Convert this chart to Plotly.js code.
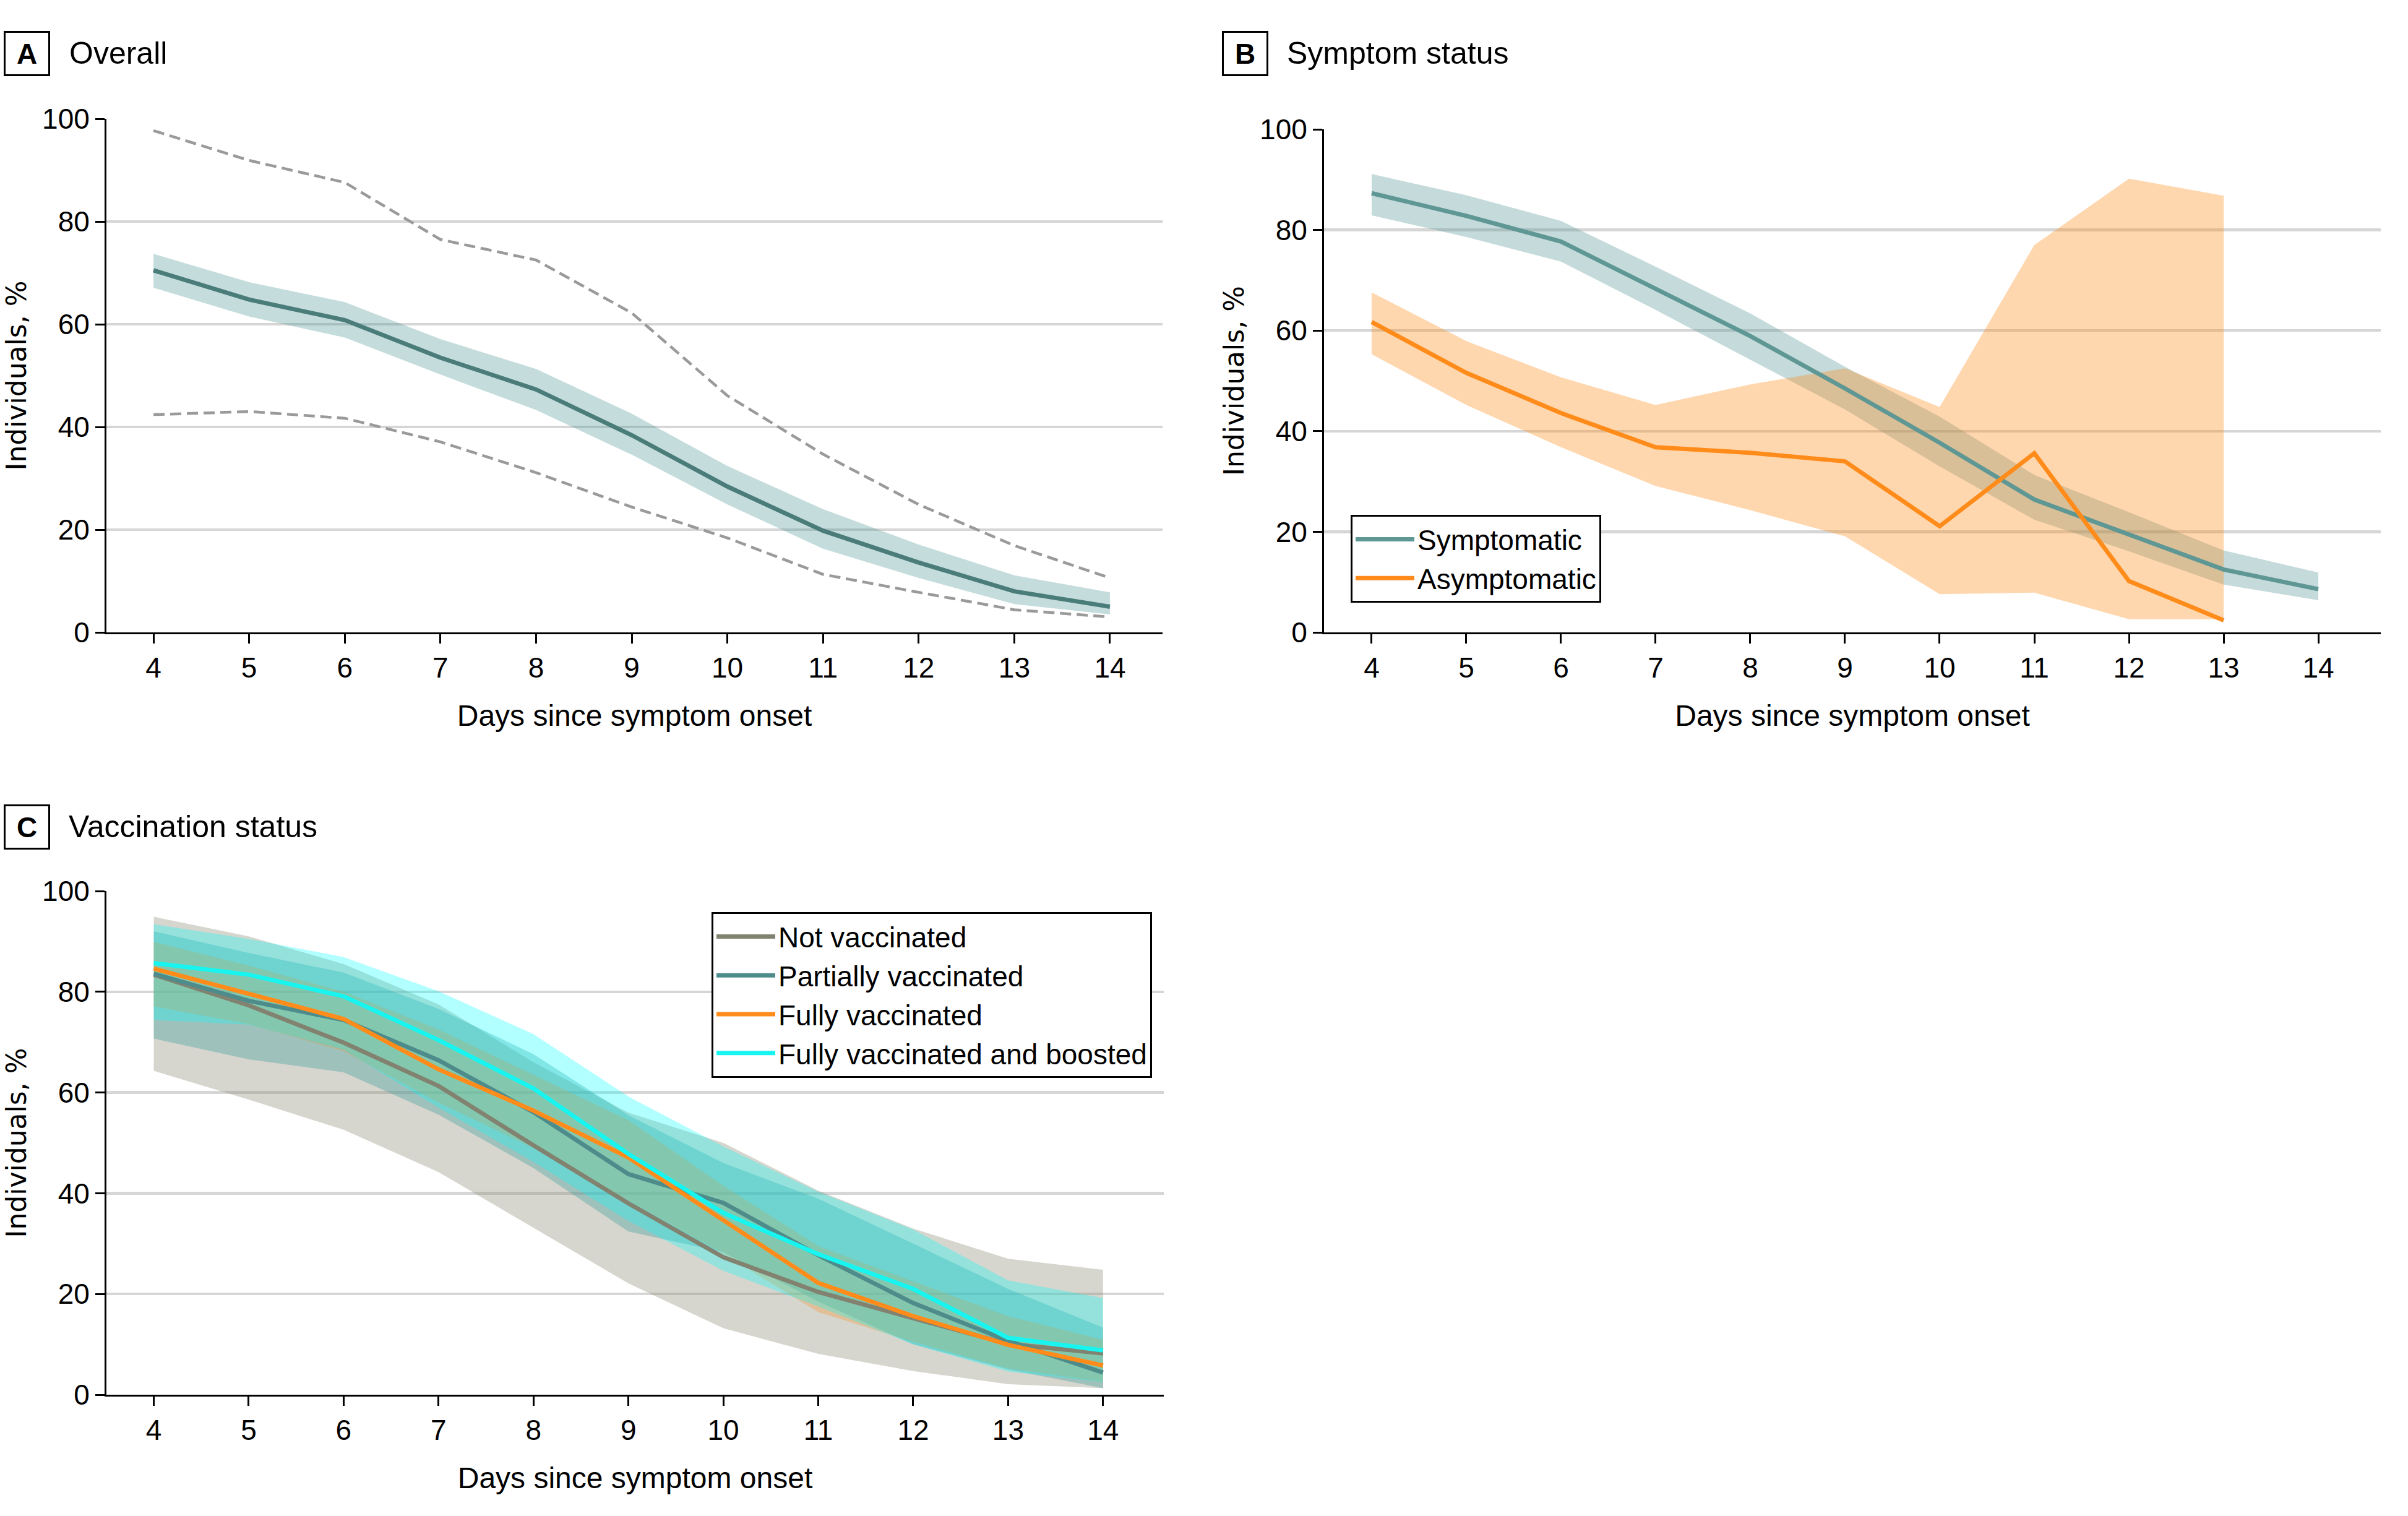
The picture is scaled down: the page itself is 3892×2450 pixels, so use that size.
<!DOCTYPE html>
<html>
<head>
<meta charset="utf-8">
<script src="https://cdn.plot.ly/plotly-3.0.1.min.js"></script>
<style>html,body{margin:0;padding:0;background:#fff;}#chart{width:3892px;height:2450px;}</style>
</head>
<body>
<div id="chart"></div>
<script>
// ---------- DATA ----------
const days = [4, 5, 6, 7, 8, 9, 10, 11, 12, 13, 14];
const dayTicks = ['4','5','6','7','8','9','10','11','12','13','14'];

// Panel A: Overall
const overallMid = [70.5, 64.8, 60.8, 53.5, 47.3, 38.4, 28.4, 19.8, 13.6, 8.0, 5.0];
const overallLo  = [67.1, 61.5, 57.4, 50.2, 43.3, 34.6, 24.9, 16.3, 10.6, 5.5, 3.5];
const overallHi  = [73.7, 68.2, 64.3, 57.1, 51.3, 42.6, 32.4, 24.0, 17.1, 11.1, 7.8];
const overallRangeHi = [97.7, 91.9, 87.6, 76.5, 72.5, 62.2, 46.1, 34.7, 24.9, 16.9, 10.6];
const overallRangeLo = [42.4, 43.0, 41.7, 37.1, 31.1, 24.4, 18.4, 11.3, 7.8, 4.4, 3.0];

// Panel B: Symptom status
const sympName = 'Symptomatic';
const sympMid = [87.3, 82.8, 77.7, 68.3, 58.9, 48.5, 37.7, 26.4, 19.4, 12.5, 8.6];
const sympLo  = [82.9, 78.6, 73.7, 64.1, 54.2, 44.3, 33.0, 22.4, 16.1, 9.5, 6.4];
const sympHi  = [91.1, 86.9, 81.8, 72.7, 63.4, 52.8, 42.9, 31.3, 23.9, 16.3, 11.9];
const asymName = 'Asymptomatic';
const asymDays = [4, 5, 6, 7, 8, 9, 10, 11, 12, 13];
const asymMid = [61.7, 51.6, 43.6, 36.8, 35.7, 34.0, 21.1, 35.6, 10.2, 2.4];
const asymLo  = [55.3, 45.2, 36.8, 29.1, 24.3, 19.1, 7.6, 7.9, 2.6, 2.6];
const asymHi  = [67.6, 57.9, 50.7, 45.2, 49.3, 52.5, 44.8, 77.0, 90.2, 86.8];

// Panel C: Vaccination status
const vacNames = ['Not vaccinated', 'Partially vaccinated', 'Fully vaccinated', 'Fully vaccinated and boosted'];
const notVacMid = [83.4, 77.3, 69.9, 61.3, 49.5, 38.0, 27.3, 20.4, 15.2, 10.1, 8.2];
const notVacLo  = [64.3, 58.6, 52.6, 44.2, 33.1, 22.1, 13.2, 8.1, 4.7, 2.1, 1.3];
const notVacHi  = [94.9, 91.0, 85.5, 77.5, 66.0, 56.0, 50.0, 40.5, 33.0, 27.0, 24.8];
const partMid = [83.6, 78.2, 74.4, 66.4, 56.1, 43.8, 38.1, 27.7, 18.2, 10.7, 4.4];
const partLo  = [70.7, 66.6, 64.0, 55.6, 45.0, 32.4, 28.3, 18.5, 10.0, 5.0, 1.3];
const partHi  = [92.0, 87.7, 83.8, 76.6, 67.6, 55.5, 46.0, 38.9, 30.0, 21.0, 13.3];
const fullMid = [84.6, 79.6, 74.6, 64.6, 56.4, 47.1, 34.7, 22.2, 15.6, 9.9, 5.8];
const fullLo  = [77.1, 73.6, 68.2, 58.0, 49.0, 38.5, 28.0, 16.4, 10.5, 5.2, 2.6];
const fullHi  = [89.9, 85.2, 80.0, 72.5, 63.5, 54.5, 41.5, 29.5, 22.5, 15.6, 10.9];
const boostMid = [85.7, 83.4, 79.1, 70.4, 60.8, 47.8, 36.1, 27.9, 21.0, 11.3, 8.8];
const boostLo  = [74.4, 73.5, 68.5, 57.0, 46.2, 34.5, 24.6, 17.5, 10.0, 4.6, 2.5];
const boostHi  = [93.4, 90.5, 86.9, 80.1, 71.6, 59.2, 49.3, 40.3, 32.8, 22.7, 19.2];

// ---------- HELPERS ----------
function band(x, lo, hi, fill, xa, ya) {
  return {
    type: 'scatter', mode: 'lines',
    x: x.concat(x.slice().reverse()),
    y: hi.concat(lo.slice().reverse()),
    fill: 'toself', fillcolor: fill,
    line: {width: 0, color: 'rgba(0,0,0,0)'},
    showlegend: false, hoverinfo: 'skip',
    xaxis: xa, yaxis: ya
  };
}
function line(x, y, color, width, xa, ya, extra) {
  return Object.assign({
    type: 'scatter', mode: 'lines', x: x, y: y,
    line: {color: color, width: width},
    showlegend: false, hoverinfo: 'skip',
    xaxis: xa, yaxis: ya
  }, extra || {});
}

const TICKFONT = 'Liberation Sans, Arial, sans-serif';
const YTITLEFONT = 'DejaVu Sans, Verdana, sans-serif';

// ---------- TRACES ----------
const traces = [];
// A
traces.push(band(days, overallLo, overallHi, 'rgba(80,150,148,0.33)', 'x', 'y'));
traces.push(line(days, overallRangeHi, '#9a9a9a', 4, 'x', 'y', {line: {color: '#9a9a9a', width: 4.5, dash: '18px,9px'}}));
traces.push(line(days, overallRangeLo, '#9a9a9a', 4, 'x', 'y', {line: {color: '#9a9a9a', width: 4.5, dash: '18px,9px'}}));
traces.push(line(days, overallMid, '#4a7c7a', 7, 'x', 'y'));

// B
traces.push(band(days, sympLo, sympHi, 'rgba(90,150,148,0.35)', 'x2', 'y2'));
traces.push(band(asymDays, asymLo, asymHi, 'rgba(255,140,26,0.35)', 'x2', 'y2'));
traces.push(line(days, sympMid, '#5e9794', 7, 'x2', 'y2', {name: sympName, showlegend: true, legend: 'legend'}));
traces.push(line(asymDays, asymMid, '#ff8c1a', 7, 'x2', 'y2', {name: asymName, showlegend: true, legend: 'legend'}));

// C
const vacColors = ['#828270', '#4e8c8c', '#ff8c1a', '#18f5f0'];
const vacFills = ['rgba(140,140,118,0.36)', 'rgba(70,160,160,0.38)', 'rgba(255,140,26,0.30)', 'rgba(0,255,255,0.30)'];
const vacMid = [notVacMid, partMid, fullMid, boostMid];
const vacLo = [notVacLo, partLo, fullLo, boostLo];
const vacHi = [notVacHi, partHi, fullHi, boostHi];
for (let i = 0; i < 4; i++) traces.push(band(days, vacLo[i], vacHi[i], vacFills[i], 'x3', 'y3'));
for (let i = 0; i < 4; i++) traces.push(line(days, vacMid[i], vacColors[i], 7, 'x3', 'y3', {name: vacNames[i], showlegend: true, legend: 'legend2'}));

// ---------- LAYOUT ----------
const W = 3892, H = 2450;
const px = v => v / W, py = v => 1 - v / H;

function xaxis(domain, range, anchor) {
  return {
    domain: domain, range: range, tickvals: days, ticktext: dayTicks, anchor: anchor,
    showline: true, linecolor: '#000', linewidth: 3,
    ticks: 'outside', ticklen: 15, tickwidth: 3, tickcolor: '#000',
    showgrid: false, zeroline: false,
    tickfont: {family: TICKFONT, size: 46, color: '#000'},
    title: {text: 'Days since symptom onset', font: {family: TICKFONT, size: 48, color: '#000'}, standoff: 36},
    fixedrange: true
  };
}
function yaxis(domain, anchor) {
  return {
    domain: domain, range: [0, 100], tickvals: [0, 20, 40, 60, 80, 100],
    anchor: anchor,
    showline: true, linecolor: '#000', linewidth: 3,
    ticks: 'outside', ticklen: 15, tickwidth: 3, tickcolor: '#000',
    showgrid: true, gridcolor: '#d6d6d6', gridwidth: 4.5, zeroline: false,
    tickfont: {family: TICKFONT, size: 46, color: '#000'},
    title: {text: 'Individuals, %', font: {family: YTITLEFONT, size: 44, color: '#000'}, standoff: 12},
    fixedrange: true
  };
}

function panelLabel(letter, cx, cy, title, tx) {
  return [
    {xref: 'paper', yref: 'paper', x: px(cx), y: py(cy), xanchor: 'center', yanchor: 'middle',
     text: '<b>' + letter + '</b>', showarrow: false, bordercolor: '#000', borderwidth: 3, borderpad: 0,
     width: 69, height: 67, font: {family: TICKFONT, size: 46, color: '#000'}},
    {xref: 'paper', yref: 'paper', x: px(tx), y: py(cy), xanchor: 'left', yanchor: 'middle',
     text: title, showarrow: false, font: {family: TICKFONT, size: 50, color: '#000'}}
  ];
}

function legendBox(x, y) {
  return {
    x: px(x), y: py(y), xanchor: 'left', yanchor: 'top',
    bgcolor: '#fff', bordercolor: '#000', borderwidth: 3,
    font: {family: TICKFONT, size: 46, color: '#000'},
    itemwidth: 95, tracegroupgap: 0
  };
}

const layout = {
  width: W, height: H,
  margin: {l: 0, r: 0, t: 0, b: 0},
  paper_bgcolor: '#fff', plot_bgcolor: '#fff',
  showlegend: true,
  xaxis: xaxis([px(172), px(1879)], [3.508, 14.55], 'y'),
  yaxis: yaxis([py(1022), py(192)], 'x'),
  xaxis2: xaxis([px(2140), px(3848)], [3.497, 14.66], 'y2'),
  yaxis2: yaxis([py(1022), py(209)], 'x2'),
  xaxis3: xaxis([px(172), px(1881)], [3.501, 14.64], 'y3'),
  yaxis3: yaxis([py(2254), py(1440)], 'x3'),
  legend: legendBox(2183, 832),
  legend2: legendBox(1150, 1474),
  annotations: [].concat(
    panelLabel('A', 43.5, 86.5, 'Overall', 110),
    panelLabel('B', 2012, 86.5, 'Symptom status', 2078),
    panelLabel('C', 43.5, 1336, 'Vaccination status', 109)
  )
};

Plotly.newPlot('chart', traces, layout, {staticPlot: true, displayModeBar: false});
</script>
</body>
</html>
